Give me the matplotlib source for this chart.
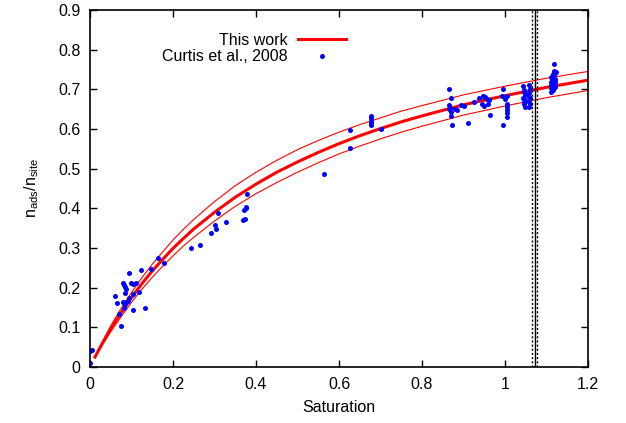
import numpy as np
import matplotlib
matplotlib.use('Agg')
import matplotlib.pyplot as plt

plt.rcParams['font.family'] = ['Liberation Sans', 'DejaVu Sans']
plt.rcParams['font.size'] = 11.5

# model curve (this work) with its upper / lower bounds
fit_s = [0.012, 0.02, 0.03, 0.05, 0.075, 0.1, 0.125, 0.15, 0.175, 0.2, 0.225,
         0.25, 0.3, 0.35, 0.4, 0.45, 0.5, 0.55, 0.6, 0.65, 0.7, 0.75, 0.8,
         0.9, 1.0, 1.1, 1.2]
fit_mid = [0.025, 0.041, 0.060, 0.096, 0.137, 0.175, 0.210, 0.242, 0.271, 0.299,
           0.324, 0.348, 0.390, 0.428, 0.461, 0.491, 0.517, 0.541, 0.563, 0.583,
           0.601, 0.618, 0.633, 0.661, 0.684, 0.705, 0.723]
fit_hi = [0.026, 0.043, 0.064, 0.104, 0.148, 0.188, 0.225, 0.259, 0.290, 0.320,
          0.347, 0.372, 0.417, 0.457, 0.491, 0.521, 0.548, 0.571, 0.592, 0.611,
          0.628, 0.645, 0.659, 0.686, 0.708, 0.728, 0.745]
fit_lo = [0.024, 0.039, 0.056, 0.089, 0.127, 0.163, 0.196, 0.226, 0.254, 0.280,
          0.305, 0.327, 0.368, 0.405, 0.437, 0.465, 0.491, 0.515, 0.537, 0.557,
          0.575, 0.592, 0.607, 0.635, 0.658, 0.679, 0.697]

# Curtis et al., 2008 data
curtis_s = [0.000, 0.000, 0.005,
            0.059, 0.065, 0.070, 0.075, 0.080, 0.082, 0.084, 0.087, 0.084, 0.080,
            0.087, 0.091, 0.083, 0.085, 0.083, 0.094, 0.098, 0.103, 0.110, 0.104,
            0.095, 0.117, 0.103, 0.133, 0.124, 0.148, 0.164, 0.179,
            0.244, 0.264, 0.292, 0.301, 0.304, 0.308, 0.328, 0.369, 0.373, 0.372,
            0.375, 0.376, 0.378,
            0.565, 0.626, 0.626, 0.678, 0.678, 0.678, 0.678, 0.678, 0.700,
            0.866, 0.870, 0.864, 0.868, 0.864, 0.869, 0.870, 0.873, 0.880, 0.884,
            0.893, 0.902, 0.912, 0.926, 0.938, 0.948, 0.952, 0.957, 0.961, 0.960,
            0.950, 0.944, 0.963,
            0.996, 0.994, 0.992, 1.004, 1.000, 1.004, 1.005, 1.006, 1.004, 1.005,
            1.044, 1.046, 1.045, 1.047, 1.044, 1.048, 1.046, 1.045, 1.047,
            1.058, 1.061, 1.059, 1.057, 1.060, 1.058, 1.061, 1.059,
            1.118, 1.118, 1.122, 1.116, 1.112, 1.120, 1.110, 1.119, 1.114, 1.120,
            1.111, 1.116, 1.112, 1.120, 1.110, 1.121, 1.113, 1.119]
curtis_n = [0.011, 0.040, 0.042,
            0.179, 0.161, 0.134, 0.104, 0.213, 0.207, 0.202, 0.196, 0.187, 0.165,
            0.165, 0.167, 0.161, 0.159, 0.149, 0.238, 0.212, 0.209, 0.213, 0.184,
            0.173, 0.190, 0.143, 0.148, 0.245, 0.248, 0.276, 0.261,
            0.301, 0.307, 0.338, 0.359, 0.349, 0.389, 0.366, 0.370, 0.372, 0.396,
            0.400, 0.404, 0.435,
            0.486, 0.598, 0.552, 0.633, 0.627, 0.621, 0.614, 0.610, 0.601,
            0.702, 0.679, 0.660, 0.654, 0.650, 0.643, 0.633, 0.609, 0.651, 0.649,
            0.661, 0.659, 0.614, 0.668, 0.679, 0.684, 0.680, 0.676, 0.672, 0.662,
            0.658, 0.662, 0.634,
            0.702, 0.609, 0.682, 0.682, 0.676, 0.664, 0.655, 0.647, 0.640, 0.630,
            0.708, 0.698, 0.692, 0.686, 0.679, 0.673, 0.667, 0.662, 0.656,
            0.711, 0.701, 0.690, 0.681, 0.677, 0.669, 0.662, 0.656,
            0.765, 0.745, 0.743, 0.739, 0.731, 0.727, 0.718, 0.718, 0.710, 0.713,
            0.704, 0.699, 0.693, 0.705, 0.710, 0.722, 0.725, 0.735]

# saturation markers (dotted bounds, solid centre)
sat_dotted = [1.065, 1.078]
sat_solid = 1.0715

fig = plt.figure(figsize=(6.26, 4.23), dpi=100)
ax = fig.add_axes([0.1438, 0.1324, 0.7955, 0.844])

ax.plot(fit_s, fit_hi, color='red', lw=0.8)
ax.plot(fit_s, fit_lo, color='red', lw=0.8)
ax.plot(fit_s, fit_mid, color='red', lw=2.2, label='This work')
ax.plot(curtis_s, curtis_n, ls='none', marker='o', ms=3.6, color='blue',
        markeredgewidth=0, label='Curtis et al., 2008')

for s in sat_dotted:
    ax.axvline(s, color='black', lw=1.0, ls=(0, (1.5, 1.5)))
ax.axvline(sat_solid, color='black', lw=1.0)

ax.set_xlim(0, 1.2)
ax.set_ylim(0, 0.9)
ax.set_xticks(np.arange(0, 1.21, 0.2))
ax.set_xticklabels(['0', '0.2', '0.4', '0.6', '0.8', '1', '1.2'])
ax.set_yticks(np.arange(0, 0.91, 0.1))
ax.set_yticklabels(['0', '0.1', '0.2', '0.3', '0.4', '0.5', '0.6', '0.7', '0.8', '0.9'])
ax.tick_params(direction='in', length=5, width=1, top=True, right=True, pad=7)
for sp in ax.spines.values():
    sp.set_linewidth(1.2)

ax.set_xlabel('Saturation', labelpad=6)
ax.set_ylabel(r'n$_{\mathregular{ads}}$/n$_{\mathregular{site}}$', labelpad=12)

leg = ax.legend(loc='upper right', bbox_to_anchor=(0.537, 0.968), frameon=False,
                markerfirst=False, numpoints=1, handlelength=3.0,
                handletextpad=0.7, labelspacing=0.1, borderpad=0.2)

fig.savefig('out.png', dpi=100)
